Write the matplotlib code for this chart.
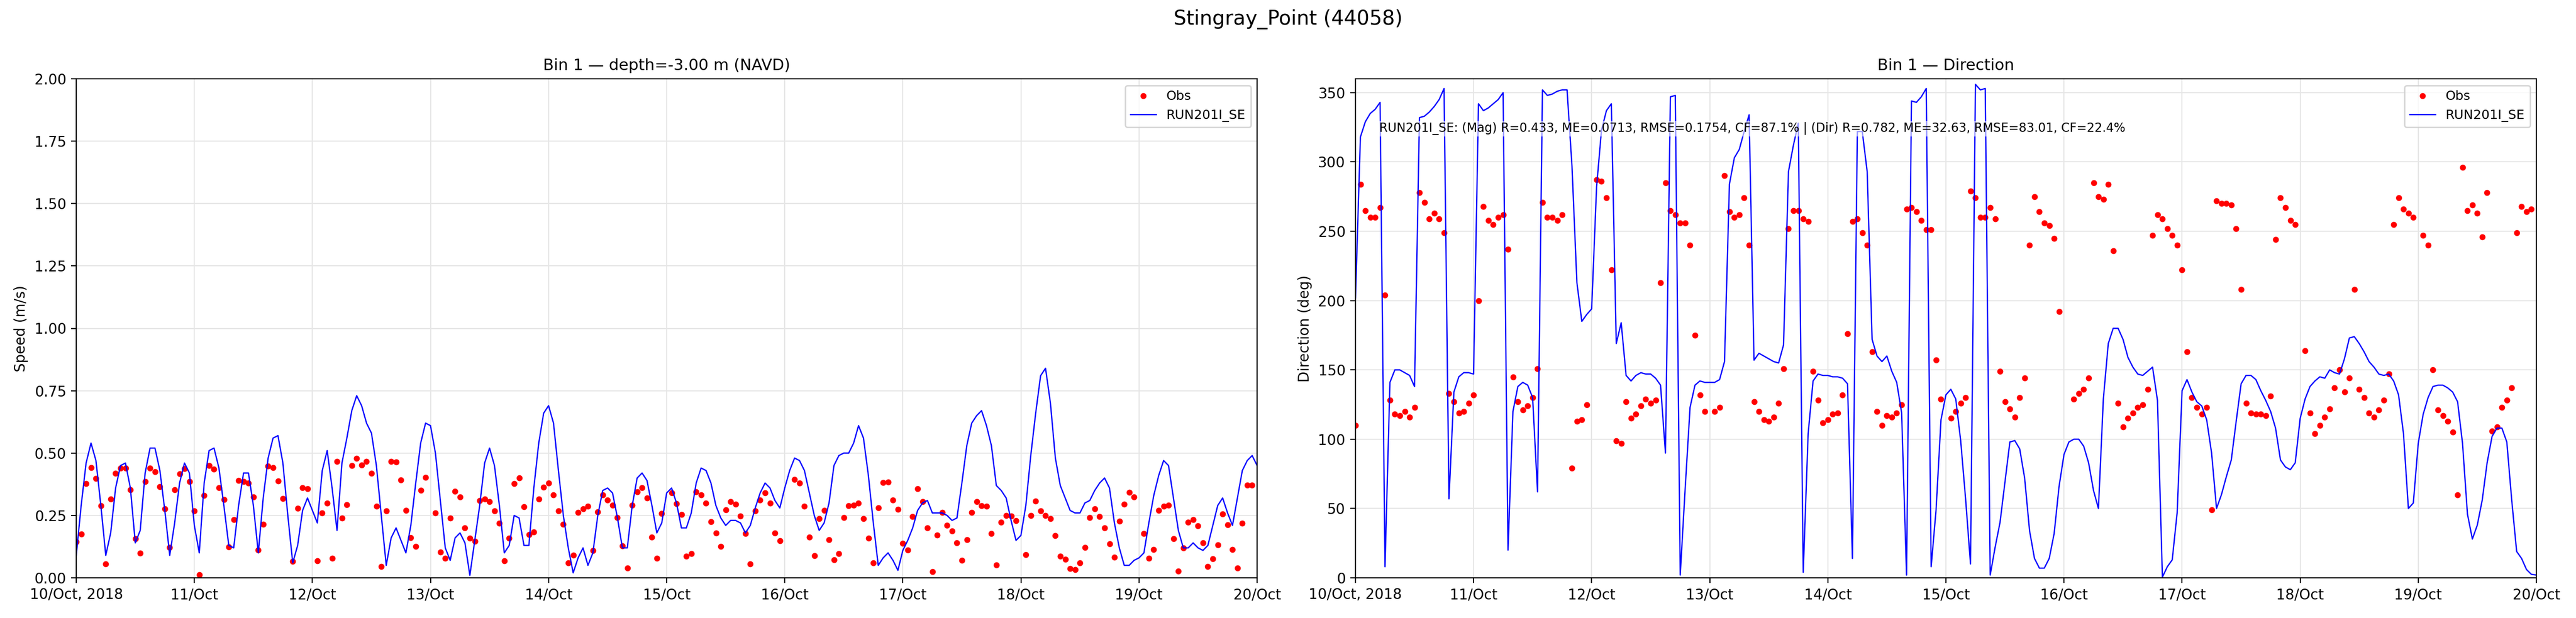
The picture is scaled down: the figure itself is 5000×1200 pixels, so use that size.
import numpy as np
import pandas as pd
import matplotlib
matplotlib.use("Agg")
import matplotlib.pyplot as plt
import matplotlib.dates as mdates

nan = np.nan
start = "2018-10-10 00:00"

model_speed = [0.09, 0.29, 0.46, 0.54, 0.47, 0.29, 0.09, 0.18, 0.36, 0.45, 0.46, 0.36,
               0.14, 0.19, 0.42, 0.52, 0.52, 0.43, 0.27, 0.09, 0.22, 0.38, 0.46, 0.42,
               0.21, 0.10, 0.38, 0.51, 0.52, 0.44, 0.29, 0.13, 0.12, 0.29, 0.42, 0.42,
               0.29, 0.10, 0.32, 0.48, 0.56, 0.57, 0.46, 0.25, 0.06, 0.13, 0.27, 0.32,
               0.27, 0.22, 0.43, 0.51, 0.36, 0.19, 0.46, 0.56, 0.67, 0.73, 0.69, 0.62,
               0.58, 0.45, 0.25, 0.05, 0.16, 0.20, 0.15, 0.10, 0.21, 0.38, 0.54, 0.62,
               0.61, 0.50, 0.31, 0.12, 0.07, 0.16, 0.18, 0.14, 0.01, 0.15, 0.29, 0.46,
               0.52, 0.45, 0.29, 0.10, 0.13, 0.25, 0.24, 0.13, 0.13, 0.36, 0.54, 0.66,
               0.69, 0.62, 0.43, 0.25, 0.12, 0.02, 0.08, 0.12, 0.05, 0.10, 0.25, 0.35,
               0.36, 0.34, 0.24, 0.12, 0.12, 0.29, 0.40, 0.42, 0.39, 0.29, 0.18, 0.22,
               0.34, 0.36, 0.30, 0.20, 0.20, 0.26, 0.38, 0.44, 0.43, 0.38, 0.29, 0.24,
               0.21, 0.23, 0.23, 0.22, 0.18, 0.21, 0.28, 0.34, 0.38, 0.36, 0.31, 0.28,
               0.36, 0.43, 0.48, 0.47, 0.43, 0.34, 0.25, 0.19, 0.22, 0.30, 0.45, 0.49,
               0.50, 0.50, 0.54, 0.61, 0.56, 0.41, 0.22, 0.05, 0.08, 0.10, 0.07, 0.03,
               0.11, 0.15, 0.20, 0.27, 0.30, 0.31, 0.26, 0.26, 0.26, 0.25, 0.23, 0.24,
               0.38, 0.53, 0.62, 0.65, 0.67, 0.61, 0.53, 0.37, 0.35, 0.32, 0.23, 0.15,
               0.17, 0.29, 0.49, 0.66, 0.81, 0.84, 0.70, 0.48, 0.37, 0.32, 0.27, 0.26,
               0.26, 0.30, 0.31, 0.35, 0.38, 0.40, 0.36, 0.22, 0.12, 0.05, 0.05, 0.07,
               0.08, 0.10, 0.22, 0.33, 0.41, 0.47, 0.45, 0.32, 0.19, 0.12, 0.12, 0.14,
               0.12, 0.11, 0.13, 0.21, 0.29, 0.32, 0.26, 0.21, 0.32, 0.43, 0.47, 0.49,
               0.45]

obs_speed = [0.145, 0.176, 0.378, 0.441, 0.399, 0.288, 0.055, 0.316, 0.419, 0.44, 0.44, 0.352,
             0.157, 0.10, 0.385, 0.44, 0.426, 0.366, 0.276, 0.121, 0.352, 0.416, 0.437, 0.386,
             0.268, 0.012, 0.33, 0.45, 0.435, 0.362, 0.314, 0.124, 0.233, 0.39, 0.386, 0.379,
             0.324, 0.112, 0.214, 0.448, 0.441, 0.388, 0.317, nan, 0.066, 0.278, 0.361, 0.357,
             nan, 0.069, 0.261, 0.30, 0.079, 0.466, 0.24, 0.293, 0.45, 0.479, 0.452, 0.466,
             0.419, 0.286, 0.046, 0.268, 0.466, 0.464, 0.393, 0.27, 0.162, 0.126, 0.35, 0.402,
             nan, 0.261, 0.103, 0.078, 0.24, 0.347, 0.324, 0.20, 0.159, 0.146, 0.31, 0.316,
             0.306, 0.268, 0.218, 0.069, 0.159, 0.378, 0.40, 0.285, 0.173, 0.183, 0.316, 0.363,
             0.379, 0.333, 0.268, 0.214, 0.059, 0.09, 0.263, 0.276, 0.286, 0.11, 0.264, 0.332,
             0.312, 0.29, 0.241, 0.128, 0.04, 0.29, 0.345, 0.362, 0.319, 0.164, 0.079, 0.257,
             nan, 0.34, 0.297, 0.254, 0.087, 0.097, 0.345, 0.332, 0.30, 0.224, 0.18, 0.125,
             0.272, 0.305, 0.295, 0.248, 0.177, 0.055, 0.268, 0.311, 0.34, 0.30, 0.179, 0.148,
             nan, nan, 0.394, 0.379, 0.286, 0.164, 0.088, 0.238, 0.27, 0.152, 0.073, 0.097,
             0.242, 0.288, 0.29, 0.30, 0.237, 0.159, 0.059, 0.28, 0.381, 0.383, 0.311, 0.274,
             0.139, 0.112, 0.245, 0.357, 0.305, 0.20, 0.024, 0.171, 0.262, 0.211, 0.188, 0.141,
             0.07, 0.152, 0.262, 0.305, 0.288, 0.287, 0.177, 0.052, 0.223, 0.249, 0.248, 0.23,
             nan, 0.093, 0.249, 0.308, 0.268, 0.249, 0.237, 0.169, 0.086, 0.074, 0.037, 0.033,
             0.059, 0.121, 0.241, 0.276, 0.246, 0.20, 0.137, 0.083, 0.228, 0.295, 0.342, 0.324,
             nan, 0.178, 0.078, 0.114, 0.27, 0.286, 0.29, 0.156, 0.026, 0.12, 0.223, 0.233,
             0.209, 0.141, 0.045, 0.076, 0.133, 0.255, 0.212, 0.114, 0.039, 0.218, 0.371, 0.371]

model_dir = [202, 318, 329, 335, 338, 343, 8, 141, 150, 150, 148, 146,
             138, 332, 333, 336, 340, 345, 353, 57, 134, 145, 148, 148,
             147, 342, 337, 339, 342, 345, 350, 20, 120, 138, 141, 139,
             130, 62, 352, 348, 349, 351, 352, 352, 297, 213, 185, 190,
             194, 282, 323, 337, 342, 169, 184, 146, 142, 146, 148, 147,
             147, 144, 139, 90, 347, 348, 2, 64, 123, 139, 142, 141,
             141, 141, 143, 156, 284, 303, 309, 322, 334, 157, 162, 160,
             158, 156, 155, 168, 293, 312, 328, 4, 104, 142, 147, 146,
             146, 145, 145, 144, 140, 14, 322, 322, 293, 172, 160, 156,
             160, 149, 141, 119, 2, 344, 343, 347, 353, 8, 49, 114,
             132, 136, 129, 99, 57, 10, 356, 352, 353, 2, 22, 40,
             69, 98, 99, 93, 72, 34, 14, 7, 7, 14, 32, 66,
             89, 98, 100, 100, 95, 83, 63, 50, 129, 169, 180, 180,
             172, 159, 152, 147, 146, 149, 152, 128, 0.5, 8, 13, 47,
             135, 143, 134, 127, 124, 114, 90, 50, 60, 73, 85, 113,
             140, 146, 146, 143, 135, 128, 120, 108, 85, 80, 78, 83,
             115, 129, 138, 142, 145, 144, 150, 148, 147, 158, 173, 174,
             169, 163, 156, 152, 147, 146, 147, 142, 132, 104, 50, 54,
             97, 118, 130, 138, 139, 139, 137, 134, 127, 97, 46, 28,
             38, 56, 83, 102, 108, 108, 98, 56, 19, 14, 6, 2.5,
             2]

obs_dir = [110, 284, 265, 260, 260, 267, 204, 128, 118, 117, 120, 116,
           123, 278, 271, 259, 263, 259, 249, 133, 127, 119, 120, 126,
           132, 200, 268, 258, 255, 260, 262, 237, 145, 127, 121, 124,
           130, 151, 271, 260, 260, 258, 262, nan, 79, 113, 114, 125,
           nan, 287, 286, 274, 222, 99, 97, 127, 115, 118, 124, 129,
           126, 128, 213, 285, 265, 262, 256, 256, 240, 175, 132, 120,
           nan, 120, 123, 290, 264, 260, 262, 274, 240, 127, 120, 114,
           113, 116, 126, 151, 252, 265, 265, 259, 257, 149, 128, 112,
           114, 118, 119, 132, 176, 257, 259, 249, 240, 163, 120, 110,
           117, 116, 119, 125, 266, 267, 264, 258, 251, 251, 157, 129,
           nan, 115, 120, 126, 130, 279, 274, 260, 260, 267, 259, 149,
           127, 122, 116, 130, 144, 240, 275, 264, 256, 254, 245, 192,
           nan, nan, 129, 133, 136, 144, 285, 275, 273, 284, 236, 126,
           109, 115, 119, 123, 125, 136, 247, 262, 259, 252, 247, 240,
           222, 163, 130, 123, 118, 123, 49, 272, 270, 270, 269, 252,
           208, 126, 119, 118, 118, 117, 131, 244, 274, 267, 258, 255,
           nan, 164, 119, 104, 110, 116, 122, 137, 150, 134, 144, 208,
           136, 130, 119, 116, 121, 128, 147, 255, 274, 266, 263, 260,
           nan, 247, 240, 150, 121, 117, 113, 105, 60, 296, 265, 269,
           263, 246, 278, 106, 109, 123, 128, 137, 249, 268, 264, 266]

stats_text = ("RUN201I_SE: (Mag) R=0.433, ME=0.0713, RMSE=0.1754, CF=87.1% | "
              "(Dir) R=0.782, ME=32.63, RMSE=83.01, CF=22.4%")

t_model = pd.date_range(start, periods=len(model_speed), freq="h")
t_obs = pd.date_range(start, periods=len(obs_speed), freq="h")

fig = plt.figure(figsize=(25, 6), dpi=200)
fig.suptitle("Stingray_Point (44058)", fontsize=14, y=0.985)
ax1 = fig.add_axes([0.0296, 0.065, 0.4584, 0.8075])
ax2 = fig.add_axes([0.5262, 0.065, 0.4584, 0.8075])

def fmt(x, pos):
    d = mdates.num2date(x)
    if d.day == 10:
        return d.strftime("%d/%b, %Y")
    return d.strftime("%d/%b")

for ax in (ax1, ax2):
    ax.grid(True, color="#e6e6e6", linewidth=0.8)
    ax.set_axisbelow(True)
    ax.set_xlim(pd.Timestamp("2018-10-10"), pd.Timestamp("2018-10-20"))
    ax.xaxis.set_major_locator(mdates.DayLocator())
    ax.xaxis.set_major_formatter(plt.FuncFormatter(fmt))

ax1.plot(t_obs, obs_speed, "o", color="red", markersize=3.2, label="Obs")
ax1.plot(t_model, model_speed, "-", color="blue", linewidth=0.9, label="RUN201I_SE")
ax1.set_ylim(0, 2.0)
ax1.set_yticks(np.arange(0, 2.01, 0.25))
ax1.set_ylabel("Speed (m/s)")
ax1.set_title("Bin 1 — depth=-3.00 m (NAVD)", fontsize=11)
ax1.legend(loc="upper right", fontsize=9)

ax2.plot(t_obs, obs_dir, "o", color="red", markersize=3.2, label="Obs")
ax2.plot(t_model, model_dir, "-", color="blue", linewidth=0.9, label="RUN201I_SE")
ax2.set_ylim(0, 360)
ax2.set_yticks(np.arange(0, 351, 50))
ax2.set_ylabel("Direction (deg)")
ax2.set_title("Bin 1 — Direction", fontsize=11)
ax2.legend(loc="upper right", fontsize=9)
ax2.text(0.02, 0.9, stats_text, transform=ax2.transAxes, fontsize=8.5,
         va="center", ha="left",
         bbox=dict(facecolor="white", edgecolor="none", alpha=0.6, pad=1))

fig.savefig("out.png", dpi=200)
